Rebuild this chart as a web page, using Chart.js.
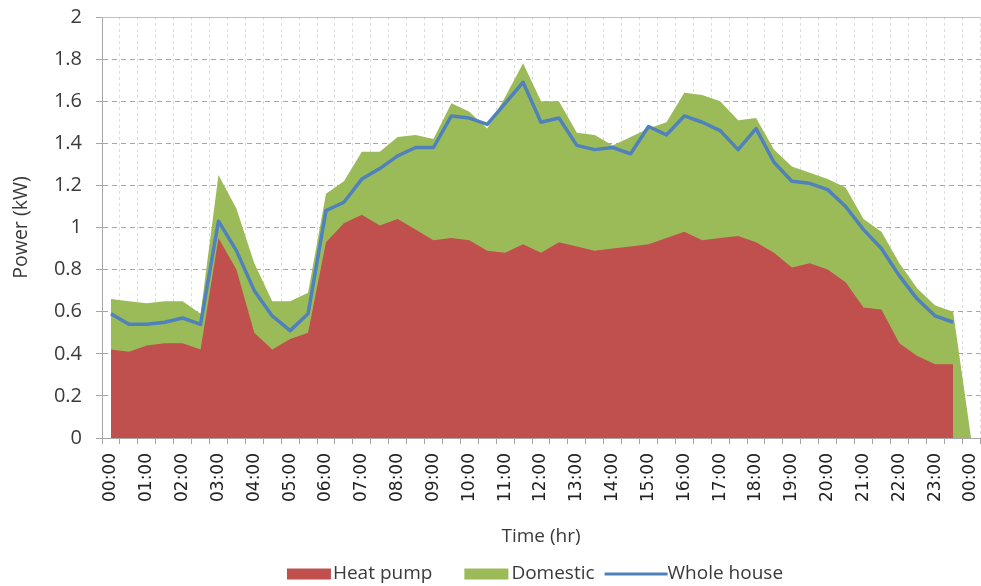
<!DOCTYPE html>
<html>
<head>
<meta charset="utf-8">
<script src="https://cdn.jsdelivr.net/npm/chart.js@4.4.1/dist/chart.umd.min.js"></script>
<style>
    html, body { margin: 0; padding: 0; background: #ffffff; }
    #wrap { width: 981px; height: 586px; position: relative; }
</style>
</head>
<body>
<div id="wrap"><canvas id="power-chart"></canvas></div>
<script>
// === Data (kW, half-hourly) ===
const timeSlots = [
    "00:00", "00:30", "01:00", "01:30", "02:00", "02:30", "03:00", "03:30",
    "04:00", "04:30", "05:00", "05:30", "06:00", "06:30", "07:00", "07:30",
    "08:00", "08:30", "09:00", "09:30", "10:00", "10:30", "11:00", "11:30",
    "12:00", "12:30", "13:00", "13:30", "14:00", "14:30", "15:00", "15:30",
    "16:00", "16:30", "17:00", "17:30", "18:00", "18:30", "19:00", "19:30",
    "20:00", "20:30", "21:00", "21:30", "22:00", "22:30", "23:00", "23:30",
    "00:00"
];

const heatPump = [
    0.42, 0.41, 0.44, 0.45, 0.45, 0.42, 0.95, 0.80, 0.50, 0.42, 0.47, 0.50,
    0.93, 1.02, 1.06, 1.01, 1.04, 0.99, 0.94, 0.95, 0.94, 0.89, 0.88, 0.92,
    0.88, 0.93, 0.91, 0.89, 0.90, 0.91, 0.92, 0.95, 0.98, 0.94, 0.95, 0.96,
    0.93, 0.88, 0.81, 0.83, 0.80, 0.74, 0.62, 0.61, 0.45, 0.39, 0.35, 0.35,
    null
];

const domestic = [
    0.24, 0.24, 0.20, 0.20, 0.20, 0.17, 0.30, 0.29, 0.33, 0.23, 0.18, 0.19,
    0.23, 0.20, 0.30, 0.35, 0.39, 0.45, 0.48, 0.64, 0.61, 0.58, 0.74, 0.86,
    0.72, 0.67, 0.54, 0.55, 0.49, 0.52, 0.55, 0.55, 0.66, 0.69, 0.65, 0.55,
    0.59, 0.49, 0.48, 0.43, 0.43, 0.45, 0.42, 0.37, 0.38, 0.32, 0.28, 0.25,
    0
];

const wholeHouse = [
    0.59, 0.54, 0.54, 0.55, 0.57, 0.54, 1.03, 0.89, 0.70, 0.58, 0.51, 0.59,
    1.08, 1.12, 1.23, 1.28, 1.34, 1.38, 1.38, 1.53, 1.52, 1.49, 1.59, 1.69,
    1.50, 1.52, 1.39, 1.37, 1.38, 1.35, 1.48, 1.44, 1.53, 1.50, 1.46, 1.37,
    1.47, 1.31, 1.22, 1.21, 1.18, 1.10, 0.99, 0.90, 0.77, 0.66, 0.58, 0.55,
    null
];

const RED = "#C0504D";
const GREEN = "#9BBB59";
const BLUE = "#4F81BD";
const TEXT = "#3a3a3a";

// === Excel-like legend drawn under the axis title ===
const bottomLegend = {
    id: "bottomLegend",
    afterDraw(chart) {
        const { ctx, chartArea } = chart;
        const samples = [
            { kind: "box", w: 44, pad: 2, gap: 32 },
            { kind: "box", w: 44, pad: 3, gap: 10 },
            { kind: "line", w: 63, pad: 0, gap: 0 },
        ];
        const y = 574;
        ctx.save();
        ctx.font = '19px "Open Sans"';
        ctx.textBaseline = "middle";
        ctx.textAlign = "left";

        const items = chart.data.datasets.map((ds, i) => ({
            ...samples[i],
            text: ds.label,
            color: ds.legendColor,
            textW: ctx.measureText(ds.label).width,
        }));
        const total = items.reduce((s, it) => s + it.w + it.pad + it.textW + it.gap, 0);
        let x = (chartArea.left + chartArea.right) / 2 - total / 2 - 6;

        items.forEach((it) => {
            ctx.fillStyle = it.color;
            if (it.kind === "box") {
                ctx.fillRect(x, y - 5.5, it.w, 11);
            } else {
                ctx.fillRect(x, y - 1.5, it.w, 3);
            }
            x += it.w + it.pad;
            ctx.fillStyle = TEXT;
            ctx.fillText(it.text, x, y);
            x += it.textW + it.gap;
        });

        // solid top frame line like the original
        ctx.strokeStyle = "#BFBFBF";
        ctx.lineWidth = 1;
        ctx.beginPath();
        ctx.moveTo(chartArea.left, chartArea.top + 0.5);
        ctx.lineTo(chartArea.right, chartArea.top + 0.5);
        ctx.stroke();
        ctx.restore();
    },
};

// === Initialize Chart ===
const ctx = document.getElementById("power-chart").getContext("2d");
new Chart(ctx, {
    type: "line",
    data: {
        labels: timeSlots,
        datasets: [
            {
                label: "Heat pump",
                data: heatPump,
                stack: "load",
                order: 1,
                fill: "origin",
                backgroundColor: RED,
                legendColor: RED,
                borderWidth: 0,
                pointRadius: 0,
                tension: 0,
            },
            {
                label: "Domestic",
                data: domestic,
                stack: "load",
                order: 2,
                fill: "origin",
                backgroundColor: GREEN,
                legendColor: GREEN,
                borderWidth: 0,
                pointRadius: 0,
                tension: 0,
            },
            {
                label: "Whole house",
                data: wholeHouse,
                stack: "measured",
                order: 0,
                fill: false,
                borderColor: BLUE,
                legendColor: BLUE,
                borderWidth: 3.5,
                borderJoinStyle: "round",
                pointRadius: 0,
                tension: 0,
            },
        ],
    },
    options: {
        responsive: true,
        maintainAspectRatio: false,
        animation: false,
        layout: {
            padding: { top: 17, right: 1, bottom: 20, left: 0 },
        },
        plugins: {
            legend: { display: false },
            tooltip: { enabled: false },
        },
        scales: {
            x: {
                offset: true,
                afterFit: (scale) => {
                    scale.height = 128;
                    scale.paddingLeft = 0;
                    scale.paddingRight = 0;
                },
                grid: {
                    offset: true,
                    color: "#DDDDDD",
                    tickColor: "#A6A6A6",
                    tickLength: 6,
                },
                border: { color: "#A6A6A6", dash: [3, 3] },
                ticks: {
                    autoSkip: false,
                    maxRotation: 90,
                    minRotation: 90,
                    padding: 9,
                    color: "#222222",
                    font: { family: "DejaVu Sans", size: 17 },
                    callback: (value, index) => (index % 2 === 0 ? timeSlots[index] : ""),
                },
                title: {
                    display: true,
                    text: "Time (hr)",
                    color: TEXT,
                    font: { family: "Open Sans", size: 19 },
                    padding: { top: 0, bottom: 18 },
                },
            },
            y: {
                stacked: true,
                min: 0,
                max: 2,
                afterFit: (scale) => {
                    scale.width = 102;
                    scale.paddingTop = 0;
                    scale.paddingBottom = 0;
                },
                grid: {
                    color: "#A6A6A6",
                    tickLength: 6,
                },
                border: { color: "#A6A6A6", dash: [5, 4] },
                ticks: {
                    stepSize: 0.2,
                    padding: 14,
                    color: TEXT,
                    font: { family: "Open Sans", size: 20 },
                    callback: (value) => String(Number(value.toFixed(1))),
                },
                title: {
                    display: true,
                    text: "Power (kW)",
                    color: TEXT,
                    font: { family: "Open Sans", size: 19.5 },
                    padding: { top: 10, bottom: 0 },
                },
            },
        },
    },
    plugins: [bottomLegend],
});
</script>
</body>
</html>
